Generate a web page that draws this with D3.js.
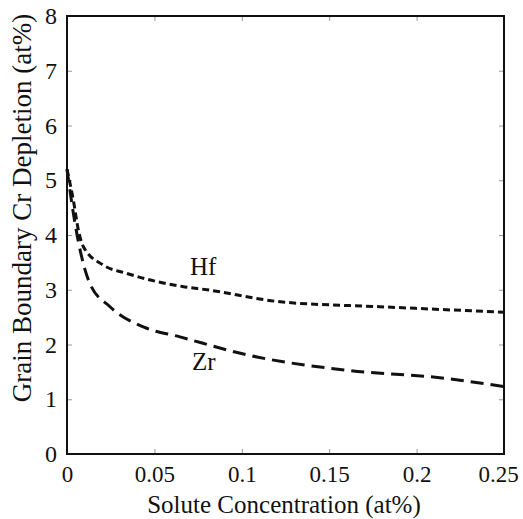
<!DOCTYPE html>
<html lang="en">
<head>
  <meta charset="UTF-8">
  <title>Grain Boundary Cr Depletion</title>
  <script src="https://d3js.org/d3.v7.min.js"></script>
  <style>
    body { margin: 0; background: #fff; }
    .tick line { stroke: #999; }
  </style>
</head>
<body>
  <script>
    // values
    const hfX = [0, 0.0036, 0.0065, 0.0093, 0.0208, 0.034, 0.066, 0.08, 0.122, 0.179, 0.25];
    const hfY = [5.2, 4.64, 4.09, 3.79, 3.45, 3.30, 3.06, 3.0, 2.78, 2.69, 2.59];
    const zrX = [0, 0.0046, 0.0084, 0.013, 0.0246, 0.0437, 0.0646, 0.103, 0.16, 0.217, 0.25];
    const zrY = [5.2, 4.21, 3.60, 3.12, 2.69, 2.32, 2.14, 1.81, 1.53, 1.38, 1.23];
    const xTicks = [0, 0.05, 0.1, 0.15, 0.2, 0.25];
    const yTicks = [0, 1, 2, 3, 4, 5, 6, 7, 8];

    const serif = "'Liberation Serif', 'Times New Roman', serif";
    const W = 523, H = 519;
    const margin = {top: 16, right: 19, bottom: 65, left: 67};
    const width = W - margin.left - margin.right;
    const height = H - margin.top - margin.bottom;

    const x = d3.scaleLinear().domain([0, 0.25]).range([0, width]);
    const y = d3.scaleLinear().domain([0, 8]).range([height, 0]);

    const svg = d3.select("body").append("svg")
      .attr("width", W).attr("height", H);
    const g = svg.append("g")
      .attr("transform", "translate(" + margin.left + "," + margin.top + ")");

    // inward ticks on all four sides
    const fmt = d => d === 0 ? "0" : String(d);
    g.append("g").attr("transform", "translate(0," + height + ")")
      .call(d3.axisBottom(x).tickValues(xTicks).tickSizeInner(-5).tickSizeOuter(0).tickPadding(12).tickFormat(fmt))
      .attr("font-family", serif)
      .call(a => a.select(".domain").remove())
      .call(a => a.selectAll("text").attr("font-size", 23).attr("fill", "#111"))
      .call(a => a.selectAll(".tick:last-of-type text").attr("dx", -6));
    g.append("g")
      .call(d3.axisTop(x).tickValues(xTicks).tickSizeInner(-5).tickSizeOuter(0).tickFormat(""))
      .call(a => a.select(".domain").remove());
    g.append("g")
      .call(d3.axisLeft(y).tickValues(yTicks).tickSizeInner(-5).tickSizeOuter(0).tickPadding(10))
      .attr("font-family", serif)
      .call(a => a.select(".domain").remove())
      .call(a => a.selectAll("text").attr("font-size", 24).attr("fill", "#111"));
    g.append("g").attr("transform", "translate(" + width + ",0)")
      .call(d3.axisRight(y).tickValues(yTicks).tickSizeInner(-5).tickSizeOuter(0).tickFormat(""))
      .call(a => a.select(".domain").remove());

    g.append("rect")
      .attr("width", width).attr("height", height)
      .attr("fill", "none").attr("stroke", "#111").attr("stroke-width", 2);

    const line = d3.line()
      .x(d => x(d[0])).y(d => y(d[1]))
      .curve(d3.curveMonotoneX);

    g.append("path")
      .datum(d3.zip(hfX, hfY))
      .attr("d", line)
      .attr("fill", "none").attr("stroke", "#111")
      .attr("stroke-width", 3).attr("stroke-dasharray", "7,4");

    g.append("path")
      .datum(d3.zip(zrX, zrY))
      .attr("d", line)
      .attr("fill", "none").attr("stroke", "#111")
      .attr("stroke-width", 3).attr("stroke-dasharray", "13,7");

    // series labels
    g.append("text").attr("x", x(0.0704)).attr("y", y(3.27))
      .attr("font-family", serif).attr("fill", "#111")
      .attr("font-size", 25).text("Hf");
    g.append("text").attr("x", x(0.0715)).attr("y", y(1.53))
      .attr("font-family", serif).attr("fill", "#111")
      .attr("font-size", 25).text("Zr");

    // axis titles
    svg.append("text")
      .attr("x", 284).attr("y", 513)
      .attr("font-family", serif).attr("fill", "#111")
      .attr("text-anchor", "middle").attr("font-size", 25)
      .text("Solute Concentration (at%)");
    svg.append("text")
      .attr("transform", "translate(31,208) rotate(-90)")
      .attr("font-family", serif).attr("fill", "#111")
      .attr("text-anchor", "middle").attr("font-size", 27)
      .text("Grain Boundary Cr Depletion (at%)");
  </script>
</body>
</html>
